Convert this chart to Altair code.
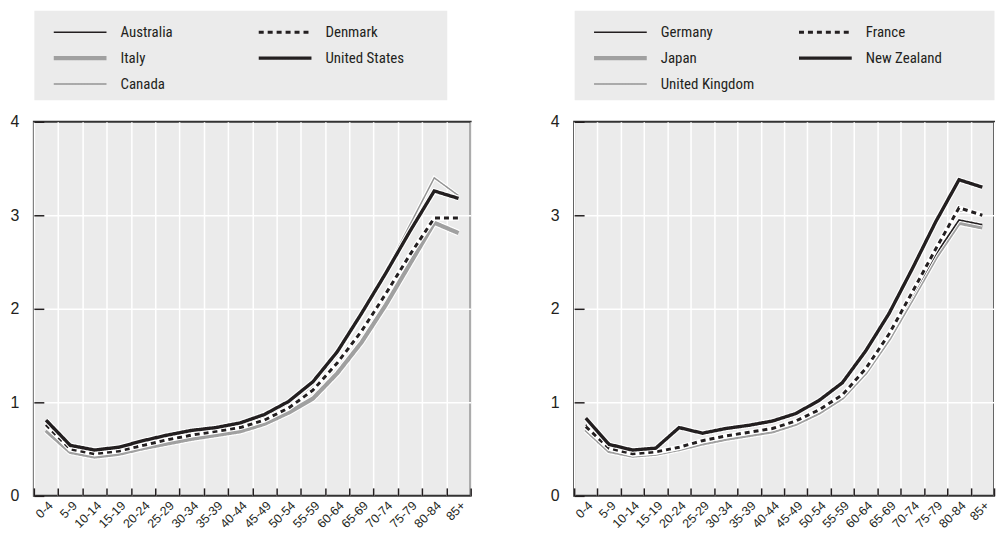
import altair as alt
import pandas as pd

ages = ["0-4", "5-9", "10-14", "15-19", "20-24", "25-29", "30-34", "35-39", "40-44",
        "45-49", "50-54", "55-59", "60-64", "65-69", "70-74", "75-79", "80-84", "85+"]
y_ticks = [0, 1, 2, 3, 4]
y_grid = [1, 2, 3]

left_countries = ["Australia", "Italy", "Canada", "Denmark", "United States"]
australia = [0.80, 0.53, 0.48, 0.51, 0.57, 0.63, 0.68, 0.72, 0.76, 0.85, 0.99, 1.20, 1.52, 1.93, 2.37, 2.82, 3.24, 3.19]
italy = [0.70, 0.47, 0.42, 0.45, 0.51, 0.56, 0.61, 0.65, 0.69, 0.77, 0.89, 1.04, 1.31, 1.64, 2.04, 2.48, 2.92, 2.81]
canada = [0.74, 0.50, 0.45, 0.48, 0.54, 0.60, 0.65, 0.69, 0.74, 0.82, 0.96, 1.18, 1.50, 1.92, 2.40, 2.90, 3.40, 3.21]
denmark = [0.76, 0.50, 0.45, 0.48, 0.54, 0.60, 0.65, 0.69, 0.73, 0.81, 0.94, 1.13, 1.42, 1.76, 2.16, 2.58, 2.97, 2.97]
united_states = [0.81, 0.54, 0.49, 0.52, 0.59, 0.65, 0.70, 0.73, 0.78, 0.87, 1.01, 1.22, 1.54, 1.95, 2.38, 2.83, 3.26, 3.18]

right_countries = ["Germany", "Japan", "United Kingdom", "France", "New Zealand"]
germany = [0.76, 0.52, 0.45, 0.47, 0.52, 0.59, 0.64, 0.68, 0.72, 0.80, 0.92, 1.08, 1.35, 1.71, 2.14, 2.58, 2.95, 2.90]
japan = [0.71, 0.48, 0.43, 0.45, 0.50, 0.56, 0.61, 0.65, 0.69, 0.77, 0.89, 1.05, 1.32, 1.68, 2.11, 2.55, 2.92, 2.87]
united_kingdom = [0.73, 0.50, 0.44, 0.46, 0.51, 0.58, 0.63, 0.67, 0.71, 0.79, 0.91, 1.07, 1.34, 1.71, 2.16, 2.62, 3.05, 3.02]
france = [0.74, 0.51, 0.45, 0.47, 0.52, 0.59, 0.64, 0.68, 0.72, 0.80, 0.92, 1.08, 1.36, 1.73, 2.18, 2.64, 3.08, 3.00]
new_zealand = [0.83, 0.55, 0.49, 0.51, 0.73, 0.67, 0.72, 0.755, 0.80, 0.88, 1.02, 1.21, 1.55, 1.95, 2.43, 2.93, 3.38, 3.30]

# styles, in legend order (col 1: three entries, col 2: two entries)
line_colors = ["#231f20", "#a0a0a0", "#949494", "#231f20", "#231f20"]
line_widths = [1.6, 4.2, 1.5, 3.0, 3.4]
line_dashes = [[1, 0], [1, 0], [1, 0], [5, 4], [1, 0]]
legend_cols = [0, 0, 0, 1, 1]
legend_rows = [0, 1, 2, 0, 1]
draw_order = [1, 2, 0, 3, 4]

INK = "#231f20"
PANEL = "#ebebeb"
FONT = "Liberation Sans, Arial, Helvetica, sans-serif"
FONT_NARROW = "Liberation Sans Narrow, Arial Narrow, Roboto Condensed, DejaVu Sans Condensed, sans-serif"

PLOT_H = 376


def make_panel(countries, series, plot_w, legend_w):
    x_scale = alt.Scale(type="band", domain=ages, paddingInner=0, paddingOuter=0)
    y_scale = alt.Scale(domain=[0, 4], nice=False)

    # grid-only axes (no offset)
    x_grid_axis = alt.Axis(title=None, orient="bottom", tickBand="extent", grid=True, gridColor="white",
                           gridWidth=1.5, domain=False, ticks=False, labels=False)
    y_grid_axis = alt.Axis(title=None, orient="left", values=y_grid, grid=True, gridColor="white",
                           gridWidth=1.5, domain=False, ticks=False, labels=False)
    # inward ticks + labels
    x_tick_axis = alt.Axis(title=None, orient="bottom", tickBand="extent", grid=False, domain=False,
                           ticks=True, tickColor=INK, tickSize=8, tickWidth=1.5, offset=-8,
                           labelAngle=315, labelFont=FONT, labelFontSize=12.5, labelColor=INK,
                           labelPadding=3)
    y_tick_axis = alt.Axis(title=None, orient="left", values=y_ticks, grid=False, domain=False,
                           ticks=True, tickColor=INK, tickSize=10, tickWidth=1.5, offset=-10,
                           labelFont=FONT, labelFontSize=16, labelColor=INK, labelPadding=15)

    layers = []
    for k, i in enumerate(draw_order):
        df = pd.DataFrame({"age": ages, "value": series[i]})
        if k == 0:
            hx, hy = x_grid_axis, y_grid_axis
            lx_, ly_ = x_tick_axis, y_tick_axis
        else:
            hx = hy = lx_ = ly_ = None
        halo_enc = dict(
            x=alt.X("age:N", sort=ages, scale=x_scale, axis=hx),
            y=alt.Y("value:Q", scale=y_scale, axis=hy),
        )
        line_enc = dict(
            x=alt.X("age:N", sort=ages, scale=x_scale, axis=lx_),
            y=alt.Y("value:Q", scale=y_scale, axis=ly_),
        )
        halo = alt.Chart(df).mark_line(color="white", strokeWidth=line_widths[i] + 2.2,
                                       strokeJoin="miter").encode(**halo_enc)
        line = alt.Chart(df).mark_line(color=line_colors[i], strokeWidth=line_widths[i],
                                       strokeDash=line_dashes[i], strokeJoin="miter",
                                       strokeCap="butt").encode(**line_enc)
        layers += [halo, line]
    plot = alt.layer(*layers).resolve_axis(x="independent", y="independent").properties(
        width=plot_w, height=PLOT_H,
        view=alt.ViewBackground(fill=PANEL, stroke="#333333", strokeWidth=2),
    )

    leg_df = pd.DataFrame({"name": countries, "col": legend_cols, "row": legend_rows})
    lx = alt.X("col:Q", scale=alt.Scale(domain=[0, 1], range=[20, 226]), axis=None)
    ly = alt.Y("row:Q", scale=alt.Scale(domain=[0, 2], range=[22, 74]), axis=None)
    rules = alt.Chart(leg_df).mark_rule(x2Offset=53, strokeCap="butt").encode(
        x=lx, x2=alt.X2("col:Q"), y=ly,
        color=alt.Color("name:N", scale=alt.Scale(type="ordinal", domain=countries, range=line_colors),
                        legend=None),
        strokeWidth=alt.StrokeWidth("name:N", scale=alt.Scale(type="ordinal", domain=countries,
                                                              range=line_widths), legend=None),
        strokeDash=alt.StrokeDash("name:N", scale=alt.Scale(type="ordinal", domain=countries,
                                                            range=line_dashes), legend=None),
    )
    texts = alt.Chart(leg_df).mark_text(align="left", baseline="middle", dx=67, font=FONT_NARROW,
                                        fontSize=15, color=INK).encode(x=lx, y=ly, text="name:N")
    legend = alt.layer(rules, texts).properties(
        width=legend_w, height=90,
        view=alt.ViewBackground(fill=PANEL, stroke="transparent"),
    )
    return alt.vconcat(legend, plot, spacing=12).resolve_scale(
        x="independent", y="independent", color="independent",
        strokeWidth="independent", strokeDash="independent")


left = make_panel(left_countries, [australia, italy, canada, denmark, united_states], 439, 415)
right = make_panel(right_countries, [germany, japan, united_kingdom, france, new_zealand], 422, 422)

chart = alt.hconcat(left, right, spacing=77).resolve_scale(
    x="independent", y="independent", color="independent",
    strokeWidth="independent", strokeDash="independent"
).properties(
    padding={"left": 1, "top": 0, "right": 0, "bottom": 0}
).configure(background="white")

chart.save("out.html", embed_options={"renderer": "svg", "actions": False})
